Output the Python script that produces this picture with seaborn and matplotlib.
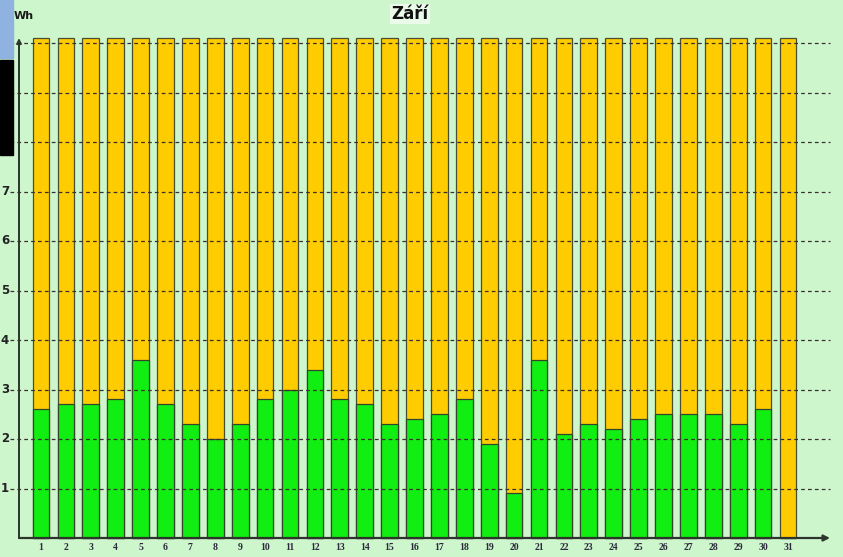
import numpy as np
import pandas as pd
import seaborn as sns
import matplotlib.pyplot as plt
from matplotlib.patches import Rectangle

# daily values for September (Wh)
days = list(range(1, 32))
green = [2.6, 2.7, 2.7, 2.8, 3.6, 2.7, 2.3, 2.0, 2.3, 2.8,
         3.0, 3.4, 2.8, 2.7, 2.3, 2.4, 2.5, 2.8, 1.9, 0.9,
         3.6, 2.1, 2.3, 2.2, 2.4, 2.5, 2.5, 2.5, 2.3, 2.6, 0.0]
total = [10.1] * 31
grid_vals = [1, 2, 3, 4, 5, 6, 7, 8, 9, 10]

df = pd.DataFrame({"day": days, "green": green, "total": total})

bg = "#cdf6cd"
sns.set_style("white")

fig = plt.figure(figsize=(8.43, 5.57), dpi=100, facecolor=bg)
ax = fig.add_axes([0, 0, 1, 1])
ax.set_facecolor(bg)

# pixel layout: day 1 at px 41, 24.9 px per day; y=0 at px 538, 49.5 px per unit
ppx, ppy = 24.9, 49.5
ax.set_xlim(1 - 41 / ppx, 1 + (843 - 41) / ppx)
ax.set_ylim(-19 / ppy, 538 / ppy)
x_axis = 1 - 22 / ppx
x_end = 1 + (830 - 41) / ppx

sns.barplot(data=df, x="day", y="total", native_scale=True, width=0.67,
            color="#ffcc00", edgecolor="#4a4f33", linewidth=0.9, saturation=1,
            ax=ax, zorder=2)
sns.barplot(data=df, x="day", y="green", native_scale=True, width=0.67,
            color="#11ee11", edgecolor="#34452c", linewidth=0.9, saturation=1,
            ax=ax, zorder=3)

# dashed grid, drawn over the bars
ax.hlines(grid_vals, 1 - 31 / ppx, x_end, colors="#3b3030", linewidth=0.9,
          linestyles=(0, (3, 2.5)), zorder=4)

# axes with arrows
ax.annotate("", xy=(x_end, 0), xytext=(x_axis, 0),
            arrowprops=dict(arrowstyle="-|>", lw=1.6, color="#2c342c",
                            mutation_scale=9, shrinkA=0, shrinkB=0), zorder=5)
ax.annotate("", xy=(x_axis, 10.1), xytext=(x_axis, 0),
            arrowprops=dict(arrowstyle="-|>", lw=1.4, color="#2c342c",
                            mutation_scale=7, shrinkA=0, shrinkB=0), zorder=5)

# tick labels
for d in days:
    ax.text(d, -10 / ppy, str(d), ha="center", va="center", fontsize=7,
            fontweight="bold", family="Liberation Serif", color="#2a2a3a")
for v in grid_vals[:-1]:
    ax.text(1 - 32 / ppx, v, str(v), ha="right", va="center", fontsize=8.5,
            fontweight="bold", color="#222222")

ax.set_xlabel("")
ax.set_ylabel("")
ax.set_xticks([])
ax.set_yticks([])
for s in ax.spines.values():
    s.set_visible(False)

fig.text(14 / 843, 1 - 16 / 557, "Wh", ha="left", va="center", fontsize=8,
         fontweight="bold", color="#1a1a1a")
fig.text(410 / 843, 1 - 14 / 557, "Září", ha="center", va="center", fontsize=12,
         fontweight="bold", color="#111111",
         bbox=dict(facecolor="white", edgecolor="none", pad=1.0, alpha=0.6))

# cropped window pieces at the top-left edge
fig.patches.append(Rectangle((0, 1 - 58 / 557), 13 / 843, 58 / 557,
                             transform=fig.transFigure, color="#8fb2e0", zorder=6))
fig.patches.append(Rectangle((0, 1 - 155 / 557), 13 / 843, 95 / 557,
                             transform=fig.transFigure, color="#000000", zorder=6))

fig.savefig("out.png", dpi=100, facecolor=bg)
